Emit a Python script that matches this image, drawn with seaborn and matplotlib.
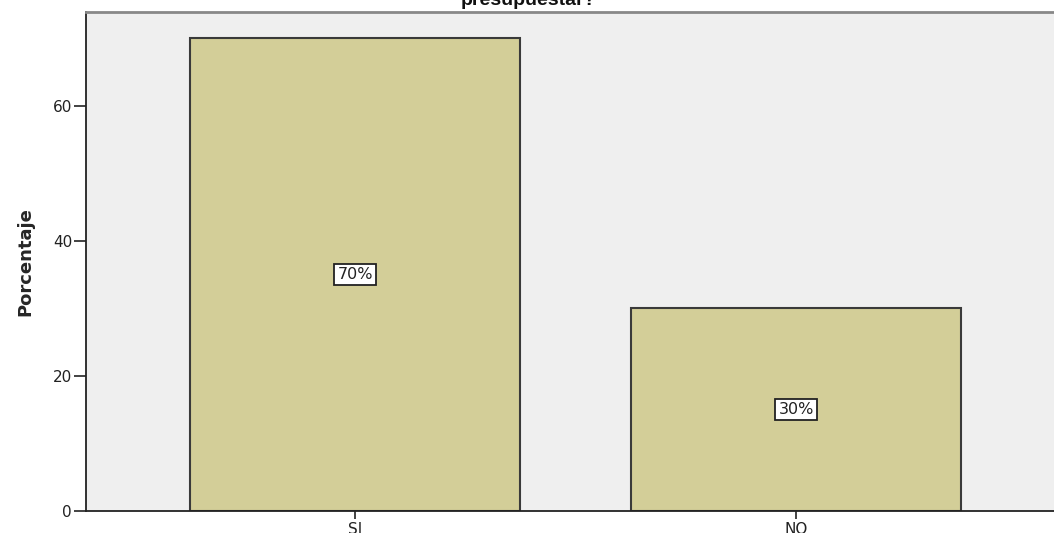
import matplotlib
matplotlib.use("Agg")
import matplotlib.pyplot as plt
import seaborn as sns
import pandas as pd

categories = ["SI", "NO"]
values = [70, 30]
labels = ["70%", "30%"]
yticks = [0, 20, 40, 60]
title = "presupuestar?"

df = pd.DataFrame({"cat": categories, "pct": values})

sns.set_style("white")
plt.rcParams['font.family'] = ['DejaVu Sans']

fig = plt.figure(figsize=(10.54, 5.33), dpi=100)
ax = fig.add_axes([86/1054, 1 - 511/533, (1054 - 86)/1054, (511 - 12)/533])
ax.set_facecolor("#EFEFEF")

sns.barplot(data=df, x="cat", y="pct", order=categories, color="#D3CE98",
            saturation=1, width=0.75, edgecolor="#3A3A3A", linewidth=1.5, ax=ax)

for i, (v, lab) in enumerate(zip(values, labels)):
    ax.text(i, v / 2, lab, ha="center", va="center", fontsize=11.5, color="#222222",
            family="DejaVu Sans",
            bbox=dict(boxstyle="square,pad=0.18", facecolor="white", edgecolor="#222222", linewidth=1.3))

ax.set_xlim(-0.61, 1.585)
ax.set_ylim(0, 73.9)
ax.set_yticks(yticks)
ax.set_yticklabels([str(t) for t in yticks], family="DejaVu Sans")
ax.set_xticks(range(len(categories)))
ax.set_xticklabels(categories, family="DejaVu Sans")
ax.tick_params(axis="both", direction="out", width=1.2, color="#222222",
               labelsize=11, labelcolor="#222222", left=True, bottom=True, pad=1)
ax.tick_params(axis="y", length=9)
ax.tick_params(axis="x", length=6, pad=2)

ax.set_xlabel("")
ax.set_ylabel("Porcentaje", fontsize=13, fontweight="bold",
              family=["DejaVu Sans Condensed", "DejaVu Sans"], labelpad=13)

for s in ["left", "bottom"]:
    ax.spines[s].set_color("#222222")
    ax.spines[s].set_linewidth(1.3)
ax.spines["top"].set_color("#888888")
ax.spines["top"].set_linewidth(2)
ax.spines["right"].set_visible(False)

fig.text(528/1054, 1 - 5/533, title, ha="center", va="baseline", fontsize=14,
         fontweight="bold", family=["Liberation Sans", "DejaVu Sans"], color="#111111")

fig.savefig("out.png", dpi=100)
